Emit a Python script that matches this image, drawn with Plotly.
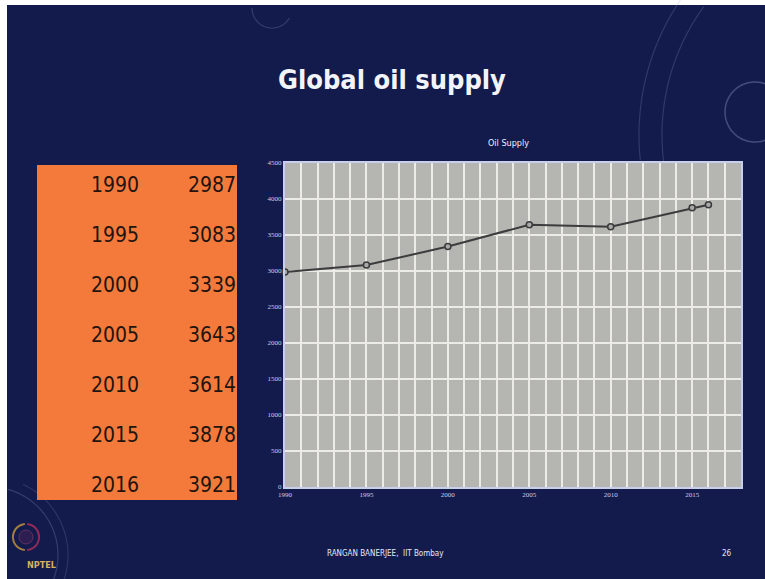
import math
import plotly.graph_objects as go

# Global oil supply (Mtoe)
years = [1990, 1995, 2000, 2005, 2010, 2015, 2016]
supply = [2987, 3083, 3339, 3643, 3614, 3878, 3921]

W, H = 765, 579
L, R, T, B = 285, 24, 163, 92
PW, PH = W - L - R, H - T - B

NAVY = "#131b4d"
ORANGE = "#f47a3c"
NARROW = "Liberation Sans Narrow, DejaVu Sans Condensed, Arial Narrow, sans-serif"


def px(x):
    return (x - L) / PW


def py(y):
    return (H - B - y) / PH


shapes = []
annotations = []

# white frame strips at the top and left edge
shapes.append(dict(type="rect", xref="paper", yref="paper", x0=px(0), x1=px(W), y0=py(5), y1=py(0),
                   fillcolor="white", line_width=0, layer="below"))
shapes.append(dict(type="rect", xref="paper", yref="paper", x0=px(0), x1=px(7), y0=py(H), y1=py(0),
                   fillcolor="white", line_width=0, layer="below"))


def arc(cx, cy, r, a0, a1, color, width=1.2, n=60):
    pts = []
    for i in range(n + 1):
        a = math.radians(a0 + (a1 - a0) * i / n)
        pts.append((px(cx + r * math.cos(a)), py(cy + r * math.sin(a))))
    d = "M " + " L ".join(f"{x:.5f},{y:.5f}" for x, y in pts)
    shapes.append(dict(type="path", xref="paper", yref="paper", path=d,
                       line=dict(color=color, width=width), layer="below"))


# faint background rings
arc(880, 135, 241, 174, 237, "rgba(150,165,220,0.22)")
arc(880, 135, 218, 172, 216, "rgba(150,165,220,0.22)")
arc(755, 112, 30, 20, 340, "rgba(170,185,230,0.32)", 1.5)
arc(272, 8, 20, 30, 180, "rgba(150,165,220,0.25)")
arc(-10, 555, 68, -75, 75, "rgba(150,165,220,0.25)")
arc(-10, 555, 78, -65, 65, "rgba(150,165,220,0.18)")

# NPTEL emblem
arc(26, 537, 13, 95, 265, "rgba(214,162,60,0.75)", 2)
arc(26, 537, 13, -85, 85, "rgba(192,48,90,0.75)", 2)
shapes.append(dict(type="circle", xref="paper", yref="paper", x0=px(19), x1=px(33), y0=py(544), y1=py(530),
                   line=dict(color="rgba(190,80,120,0.4)", width=1), fillcolor="rgba(120,40,90,0.25)"))
annotations.append(dict(x=px(25), y=py(572), xref="paper", yref="paper", text="<b>NPTEL</b>",
                        showarrow=False, font=dict(family=NARROW, size=9, color="#d8b060")))

# orange data table
shapes.append(dict(type="rect", xref="paper", yref="paper", x0=px(37), x1=px(237), y0=py(500), y1=py(165),
                   fillcolor=ORANGE, line_width=0))
for i, (yr, val) in enumerate(zip(years, supply)):
    yc = 185 + 50 * i
    annotations.append(dict(x=px(115), y=py(yc), xref="paper", yref="paper", text=str(yr),
                            showarrow=False, xanchor="center", yanchor="middle",
                            font=dict(family=NARROW, size=21, color="#22140e")))
    annotations.append(dict(x=px(238), y=py(yc), xref="paper", yref="paper", text=str(val),
                            showarrow=False, xanchor="right", yanchor="middle",
                            font=dict(family=NARROW, size=21, color="#22140e")))

# slide title
annotations.append(dict(x=px(392), y=py(80), xref="paper", yref="paper", text="<b>Global oil supply</b>",
                        showarrow=False, xanchor="center", yanchor="middle",
                        font=dict(family=NARROW, size=27, color="#f2f4fa")))
# chart title
annotations.append(dict(x=px(508), y=py(143), xref="paper", yref="paper", text="Oil Supply",
                        showarrow=False, xanchor="center", yanchor="middle",
                        font=dict(family=NARROW, size=9, color="#eef0fa")))
# footer
annotations.append(dict(x=px(385), y=py(553), xref="paper", yref="paper", text="RANGAN BANERJEE,  IIT Bombay",
                        showarrow=False, xanchor="center", yanchor="middle",
                        font=dict(family=NARROW, size=8, color="#e6e8f4")))
annotations.append(dict(x=px(727), y=py(553), xref="paper", yref="paper", text="26",
                        showarrow=False, xanchor="center", yanchor="middle",
                        font=dict(family=NARROW, size=8, color="#e6e8f4")))

fig = go.Figure(go.Scatter(
    x=years, y=supply, mode="lines+markers",
    line=dict(color="#3c3c3e", width=2),
    marker=dict(symbol="circle", size=6, color="#a9a9a9", line=dict(color="#3a3a3c", width=1.5)),
    cliponaxis=False, showlegend=False,
))

fig.update_layout(
    width=W, height=H,
    margin=dict(l=L, r=R, t=T, b=B),
    paper_bgcolor=NAVY,
    plot_bgcolor="#b5b5b2",
    shapes=shapes,
    annotations=annotations,
    xaxis=dict(range=[1990, 2018], tick0=1990, dtick=5, showgrid=True, gridcolor="#ecebe6", gridwidth=1.5,
               minor=dict(dtick=1, showgrid=True, gridcolor="#ecebe6", gridwidth=1.5),
               zeroline=False, showline=True, mirror=True, linecolor="#c8cfea", linewidth=2,
               ticks="", tickfont=dict(family="Liberation Serif, serif", size=7, color="#c9cde8")),
    yaxis=dict(range=[0, 4500], dtick=500, showgrid=True, gridcolor="#ecebe6", gridwidth=1.5,
               zeroline=False, showline=True, mirror=True, linecolor="#c8cfea", linewidth=2,
               ticks="", tickfont=dict(family="Liberation Serif, serif", size=7, color="#c9cde8")),
)

fig.write_html("out.html")
